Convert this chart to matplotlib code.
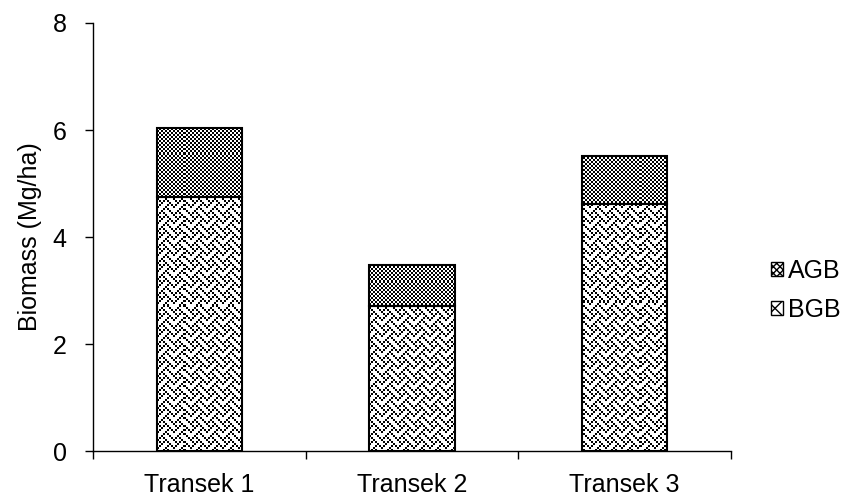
import numpy as np
import matplotlib
matplotlib.use("Agg")
import matplotlib.pyplot as plt
from matplotlib.patches import Patch

# data
categories = ["Transek 1", "Transek 2", "Transek 3"]
bgb = [4.75, 2.71, 4.62]
agb = [1.29, 0.77, 0.89]
y_ticks = [0, 2, 4, 6, 8]

plt.rcParams["font.family"] = ["Liberation Sans", "DejaVu Sans"]
plt.rcParams["font.size"] = 18

fig = plt.figure(figsize=(8.47, 4.98), dpi=100)
ax = fig.add_axes([93 / 847, 47 / 498, 638 / 847, 428 / 498])

# pattern tiles (1 = black), like the Excel fills
checker = np.array([[1, 0], [0, 1]])
weave = np.array([[int(b) for b in format(v, "08b")] for v in
                  [0x88, 0x54, 0x22, 0x45, 0x88, 0x14, 0x22, 0x51]])


def texture(tile, h, w, scale=2):
    big = np.kron(tile, np.ones((scale, scale)))
    reps = (h // big.shape[0] + 1, w // big.shape[1] + 1)
    return np.tile(big, reps)[:h, :w]


x = np.arange(len(categories))
width = 0.4
ax.set_xlim(-0.5, 2.5)
ax.set_ylim(0, 8)

tex_bgb = texture(weave, 428, 638)
tex_agb = texture(checker, 428, 638)

bars_b = ax.bar(x, bgb, width, color="white", edgecolor="none", zorder=1)
bars_a = ax.bar(x, agb, width, bottom=bgb, color="white", edgecolor="none", zorder=1)

for bars, tex in [(bars_b, tex_bgb), (bars_a, tex_agb)]:
    for patch in bars:
        im = ax.imshow(tex, extent=(-0.5, 2.5, 0, 8), aspect="auto",
                       interpolation="nearest", cmap="gray_r", vmin=0, vmax=1,
                       zorder=2)
        im.set_clip_path(patch)

# outlines on top
ax.bar(x, bgb, width, fill=False, edgecolor="black", linewidth=1.5, zorder=3)
ax.bar(x, agb, width, bottom=bgb, fill=False, edgecolor="black", linewidth=1.5, zorder=3)

for s in ["top", "right"]:
    ax.spines[s].set_visible(False)
for s in ["left", "bottom"]:
    ax.spines[s].set_linewidth(1.0)
    ax.spines[s].set_color("black")

ax.set_yticks(y_ticks)
ax.tick_params(axis="y", direction="out", length=6, width=1, pad=13)
ax.set_xticks(x)
ax.set_xticklabels(categories)
ax.tick_params(axis="x", which="major", length=0, pad=16)
ax.set_xticks([-0.5, 0.5, 1.5, 2.5], minor=True)
ax.tick_params(axis="x", which="minor", direction="out", length=6, width=1)
ax.set_ylabel("Biomass (Mg/ha)", labelpad=8)

handles = [Patch(facecolor="white", edgecolor="black", hatch="xxxxx", label="AGB"),
           Patch(facecolor="white", edgecolor="black", hatch="\\\\//", label="BGB")]
fig.legend(handles=handles, loc="center left", bbox_to_anchor=(748 / 847, 1 - 290 / 498),
           frameon=False, handlelength=0.5, handleheight=0.5, handletextpad=0.2,
           labelspacing=0.6, fontsize=18)

fig.savefig("out.png", dpi=100)
